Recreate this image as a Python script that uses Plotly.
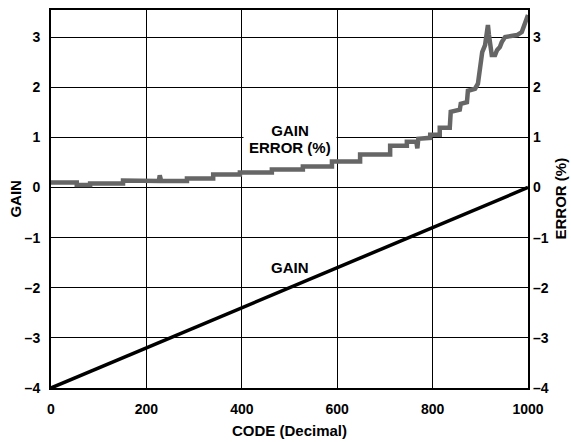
import plotly.graph_objects as go

# Gain line (left axis)
gain_code = [0, 1000]
gain_val = [-4, 0]

# Gain error (%) (right axis)
err_code = [0, 54, 54, 82, 82, 151, 151, 214, 214, 226, 228, 231, 285, 285, 340, 340, 396, 396,
            463, 463, 528, 528, 589, 589, 648, 648, 711, 711, 746, 746, 766, 768, 770, 795, 795,
            815, 815, 836, 838, 857, 859, 872, 874, 889, 895, 900, 904, 910, 913, 916, 918, 920,
            924, 931, 935, 941, 945, 952, 977, 987, 994, 1000]
err_val = [0.10, 0.10, 0.05, 0.05, 0.08, 0.08, 0.14, 0.14, 0.13, 0.13, 0.24, 0.13, 0.13, 0.18,
           0.18, 0.26, 0.26, 0.30, 0.30, 0.36, 0.36, 0.42, 0.42, 0.52, 0.52, 0.66, 0.66, 0.83,
           0.83, 0.91, 0.91, 0.78, 0.97, 0.99, 1.05, 1.05, 1.19, 1.19, 1.51, 1.55, 1.67, 1.70,
           1.93, 1.97, 2.07, 2.37, 2.70, 2.84, 3.10, 3.24, 3.05, 2.90, 2.64, 2.64, 2.74, 2.80,
           2.90, 3.00, 3.04, 3.10, 3.27, 3.44]

x_ticks = [0, 200, 400, 600, 800, 1000]
y_ticks = [-4, -3, -2, -1, 0, 1, 2, 3]
y_labels = ["\u20134", "\u20133", "\u20132", "\u20131", "0", "1", "2", "3"]

FONT = "Liberation Sans, Arial, sans-serif"
TICKF = dict(family=FONT, size=14, color="black", weight="bold")
TITF = dict(family=FONT, size=15, color="black", weight="bold")
yr = [-4, 3.54]

fig = go.Figure()
fig.add_trace(go.Scatter(x=err_code, y=err_val, mode="lines", yaxis="y2",
                         line=dict(color="#666666", width=4.5), hoverinfo="skip"))
fig.add_trace(go.Scatter(x=gain_code, y=gain_val, mode="lines",
                         line=dict(color="black", width=3.5), hoverinfo="skip"))

fig.update_layout(
    width=571, height=442,
    margin=dict(l=51, r=43, t=8, b=54),
    paper_bgcolor="white", plot_bgcolor="white",
    showlegend=False,
    font=TICKF,
    xaxis=dict(range=[0, 1000], tickvals=x_ticks, ticktext=[str(v) for v in x_ticks],
               showgrid=True, gridcolor="black", gridwidth=1.2,
               showline=True, linecolor="black", linewidth=2, mirror=True,
               ticks="", ticklabelstandoff=7, zeroline=False, tickfont=TICKF),
    yaxis=dict(range=yr, tickvals=y_ticks, ticktext=y_labels,
               showgrid=True, gridcolor="black", gridwidth=1.2,
               showline=True, linecolor="black", linewidth=2, mirror=True,
               ticks="", ticklabelstandoff=6, zeroline=False, tickfont=TICKF),
    yaxis2=dict(range=yr, tickvals=y_ticks, ticktext=y_labels, overlaying="y", side="right",
                showgrid=False, showline=False, ticks="", ticklabelstandoff=4,
                zeroline=False, tickfont=TICKF),
    annotations=[
        dict(text="CODE (Decimal)", x=0.5, y=-0.113, xref="paper", yref="paper",
             xanchor="center", yanchor="middle", showarrow=False, font=TITF),
        dict(text="GAIN", x=-0.0734, y=0.501, xref="paper", yref="paper", textangle=-90,
             xanchor="center", yanchor="middle", showarrow=False, font=TITF),
        dict(text="ERROR (%)", x=1.069, y=0.501, xref="paper", yref="paper", textangle=-90,
             xanchor="center", yanchor="middle", showarrow=False, font=TITF),
        dict(text="GAIN", x=500, y=1.143, xref="x", yref="y", showarrow=False,
             font=TITF, bgcolor="white", borderpad=0, width=92),
        dict(text="ERROR (%)", x=500, y=0.805, xref="x", yref="y", showarrow=False,
             font=TITF),
        dict(text="GAIN", x=501, y=-1.59, xref="x", yref="y", showarrow=False,
             font=TITF),
    ],
)

fig.write_html("out.html", config={"displayModeBar": False},
               post_script="document.body.style.margin='0';")
